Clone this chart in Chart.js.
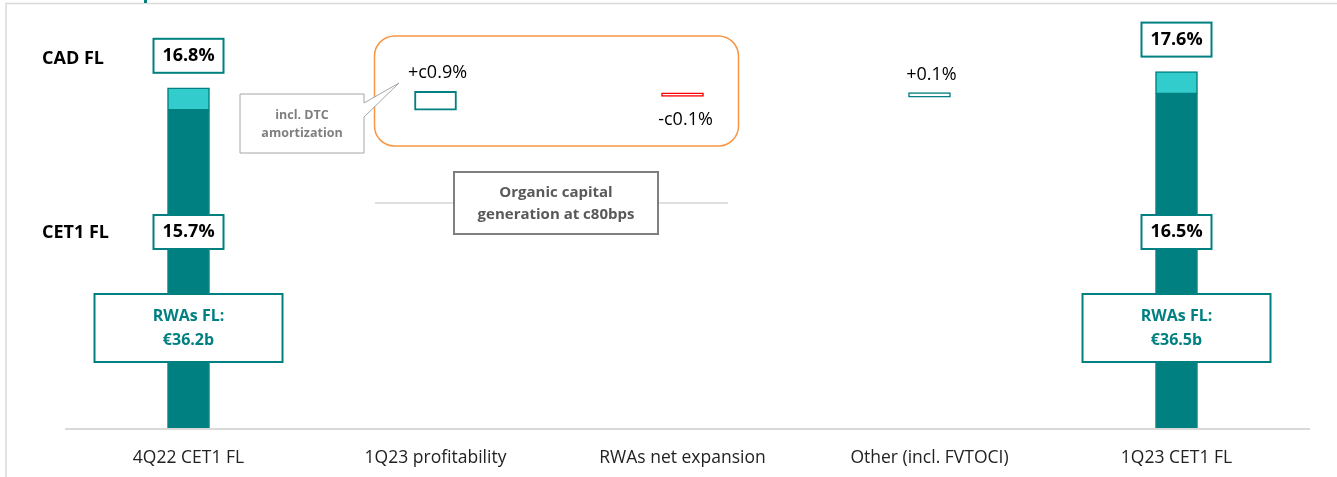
<!DOCTYPE html>
<html>
<head>
<meta charset="utf-8">
<script src="https://cdn.jsdelivr.net/npm/chart.js@4"></script>
<style>
  html, body { margin: 0; padding: 0; background: #ffffff; }
  #wrap { position: relative; width: 1337px; height: 477px; }
</style>
</head>
<body>
<div id="wrap"><canvas id="chart" width="1337" height="477"></canvas></div>
<script>
// Chart values
const categories = ['4Q22 CET1 FL', '1Q23 profitability', 'RWAs net expansion', 'Other (incl. FVTOCI)', '1Q23 CET1 FL'];
const cet1Values = [15.7, null, null, null, 16.5];
const cadValues = [16.8, null, null, null, 17.6];
const moveStart = [null, 15.7, 16.55, 16.34, null];
const moveEnd = [null, 16.63, 16.38, 16.56, null];
const moveLabels = ['', '+c0.9%', '-c0.1%', '+0.1%', ''];
const rwaLabels = ['€36.2b', '', '', '', '€36.5b'];

const TEAL = '#008080';
const LIGHT_TEAL = '#33CCCC';
const RED = '#FF0000';
const FONT = 'Open Sans';

const cet1Bars = cet1Values.map(v => (v == null ? null : [0, v]));
const cadBars = cadValues.map((v, i) => (v == null ? null : [cet1Values[i], v]));
const moveBars = moveStart.map((s, i) => (s == null ? null : [s, moveEnd[i]]));
const moveColors = moveStart.map((s, i) => (moveEnd[i] != null && moveEnd[i] < s ? RED : TEAL));

function box(ctx, x, y, w, h, stroke, lw) {
  ctx.fillStyle = '#ffffff';
  ctx.fillRect(x, y, w, h);
  ctx.strokeStyle = stroke;
  ctx.lineWidth = lw;
  ctx.strokeRect(x, y, w, h);
}

function roundRect(ctx, x, y, w, h, r) {
  ctx.beginPath();
  ctx.moveTo(x + r, y);
  ctx.arcTo(x + w, y, x + w, y + h, r);
  ctx.arcTo(x + w, y + h, x, y + h, r);
  ctx.arcTo(x, y + h, x, y, r);
  ctx.arcTo(x, y, x + w, y, r);
  ctx.closePath();
}

const annotations = {
  id: 'annotations',
  beforeDraw(chart) {
    const ctx = chart.ctx;
    ctx.save();
    // slide frame
    ctx.strokeStyle = '#D9D9D9';
    ctx.lineWidth = 1.5;
    ctx.beginPath();
    ctx.moveTo(6, 477);
    ctx.lineTo(6, 3.5);
    ctx.lineTo(1337, 3.5);
    ctx.stroke();
    ctx.fillStyle = TEAL;
    ctx.fillRect(144, 0, 3, 3);
    // category axis line, a little longer than the plot area
    const b = chart.chartArea.bottom + 1;
    ctx.strokeStyle = '#D9D9D9';
    ctx.lineWidth = 2;
    ctx.beginPath();
    ctx.moveTo(chart.chartArea.left, b);
    ctx.lineTo(chart.chartArea.right + 10, b);
    ctx.stroke();
    ctx.restore();
  },
  afterDatasetsDraw(chart) {
    const ctx = chart.ctx;
    const x = chart.scales.x;
    const y = chart.scales.y;
    ctx.save();
    ctx.textAlign = 'center';
    ctx.textBaseline = 'middle';

    // row labels
    ctx.fillStyle = '#000000';
    ctx.font = `bold 18px "${FONT}"`;
    ctx.textAlign = 'left';
    ctx.fillText('CAD FL', 42, 59);
    ctx.fillText('CET1 FL', 42, 233);
    ctx.textAlign = 'center';

    // orange group box around profitability / RWAs
    const ox1 = x.getPixelForValue(1) - 61;
    const ox2 = x.getPixelForValue(2) + 56;
    roundRect(ctx, ox1, 36, ox2 - ox1, 110, 20);
    ctx.strokeStyle = '#F79646';
    ctx.lineWidth = 1.5;
    ctx.stroke();

    // callout "incl. DTC amortization"
    ctx.beginPath();
    ctx.moveTo(240, 94);
    ctx.lineTo(364, 94);
    ctx.lineTo(364, 103);
    ctx.lineTo(399, 83);
    ctx.lineTo(364, 117);
    ctx.lineTo(364, 153);
    ctx.lineTo(240, 153);
    ctx.closePath();
    ctx.fillStyle = '#ffffff';
    ctx.fill();
    ctx.strokeStyle = '#A6A6A6';
    ctx.lineWidth = 1;
    ctx.stroke();
    ctx.fillStyle = '#7F7F7F';
    ctx.font = `bold 12.5px "${FONT}"`;
    ctx.fillText('incl. DTC', 302, 115);
    ctx.fillText('amortization', 302, 133);

    // organic capital generation box
    const gx = (x.getPixelForValue(1) + x.getPixelForValue(2)) / 2 - 3;
    ctx.strokeStyle = '#BFBFBF';
    ctx.lineWidth = 1;
    ctx.beginPath();
    ctx.moveTo(375, 203);
    ctx.lineTo(gx - 102, 203);
    ctx.moveTo(gx + 102, 203);
    ctx.lineTo(728, 203);
    ctx.stroke();
    box(ctx, gx - 102, 172, 204, 62, '#7F7F7F', 2);
    ctx.fillStyle = '#595959';
    ctx.font = `bold 15px "${FONT}"`;
    ctx.fillText('Organic capital', gx, 193);
    ctx.fillText('generation at c80bps', gx, 215);

    // movement labels
    ctx.fillStyle = '#000000';
    ctx.font = `18px "${FONT}"`;
    moveLabels.forEach((lab, i) => {
      if (!lab) return;
      const cx = x.getPixelForValue(i);
      const top = y.getPixelForValue(Math.max(moveStart[i], moveEnd[i]));
      const bot = y.getPixelForValue(Math.min(moveStart[i], moveEnd[i]));
      if (moveEnd[i] < moveStart[i]) ctx.fillText(lab, cx + 3, bot + 24);
      else ctx.fillText(lab, cx + 2, top - 18);
    });

    // value boxes on the start and end bars
    cadValues.forEach((v, i) => {
      if (v == null) return;
      const cx = x.getPixelForValue(i);
      const top = y.getPixelForValue(v);
      box(ctx, cx - 35, top - 49, 70, 34, TEAL, 2);
      box(ctx, cx - 35, 215, 70, 34, TEAL, 2);
      ctx.fillStyle = '#000000';
      ctx.font = `bold 18px "${FONT}"`;
      ctx.fillText(v.toFixed(1) + '%', cx, top - 32);
      ctx.fillText(cet1Values[i].toFixed(1) + '%', cx, 232);

      box(ctx, cx - 94, 294, 188, 68, TEAL, 2);
      ctx.fillStyle = TEAL;
      ctx.font = `bold 16px "${FONT}"`;
      ctx.fillText('RWAs FL:', cx, 316);
      ctx.fillText(rwaLabels[i], cx, 340);
    });
    ctx.restore();
  }
};

new Chart(document.getElementById('chart'), {
  type: 'bar',
  data: {
    labels: categories,
    datasets: [
      {
        data: cet1Bars,
        backgroundColor: TEAL,
        borderColor: TEAL,
        borderWidth: 1,
        borderSkipped: false,
      },
      {
        data: cadBars,
        backgroundColor: LIGHT_TEAL,
        borderColor: TEAL,
        borderWidth: 1.5,
        borderSkipped: false,
      },
      {
        data: moveBars,
        backgroundColor: '#ffffff',
        borderColor: moveColors,
        borderWidth: [0, 2, 1.5, 1.5, 0],
        borderSkipped: false,
      },
    ],
  },
  options: {
    responsive: false,
    animation: false,
    devicePixelRatio: 1,
    layout: { padding: { left: 65, right: 37, top: 23, bottom: -12 } },
    datasets: { bar: { grouped: false, barThickness: 42 } },
    plugins: { legend: { display: false }, tooltip: { enabled: false } },
    scales: {
      x: {
        grid: { display: false, drawTicks: false },
        border: { display: false },
        ticks: { color: '#222222', font: { family: FONT, size: 17.5 }, padding: 20 },
      },
      y: { display: false, min: 0, max: 20 },
    },
  },
  plugins: [annotations],
});
</script>
</body>
</html>
